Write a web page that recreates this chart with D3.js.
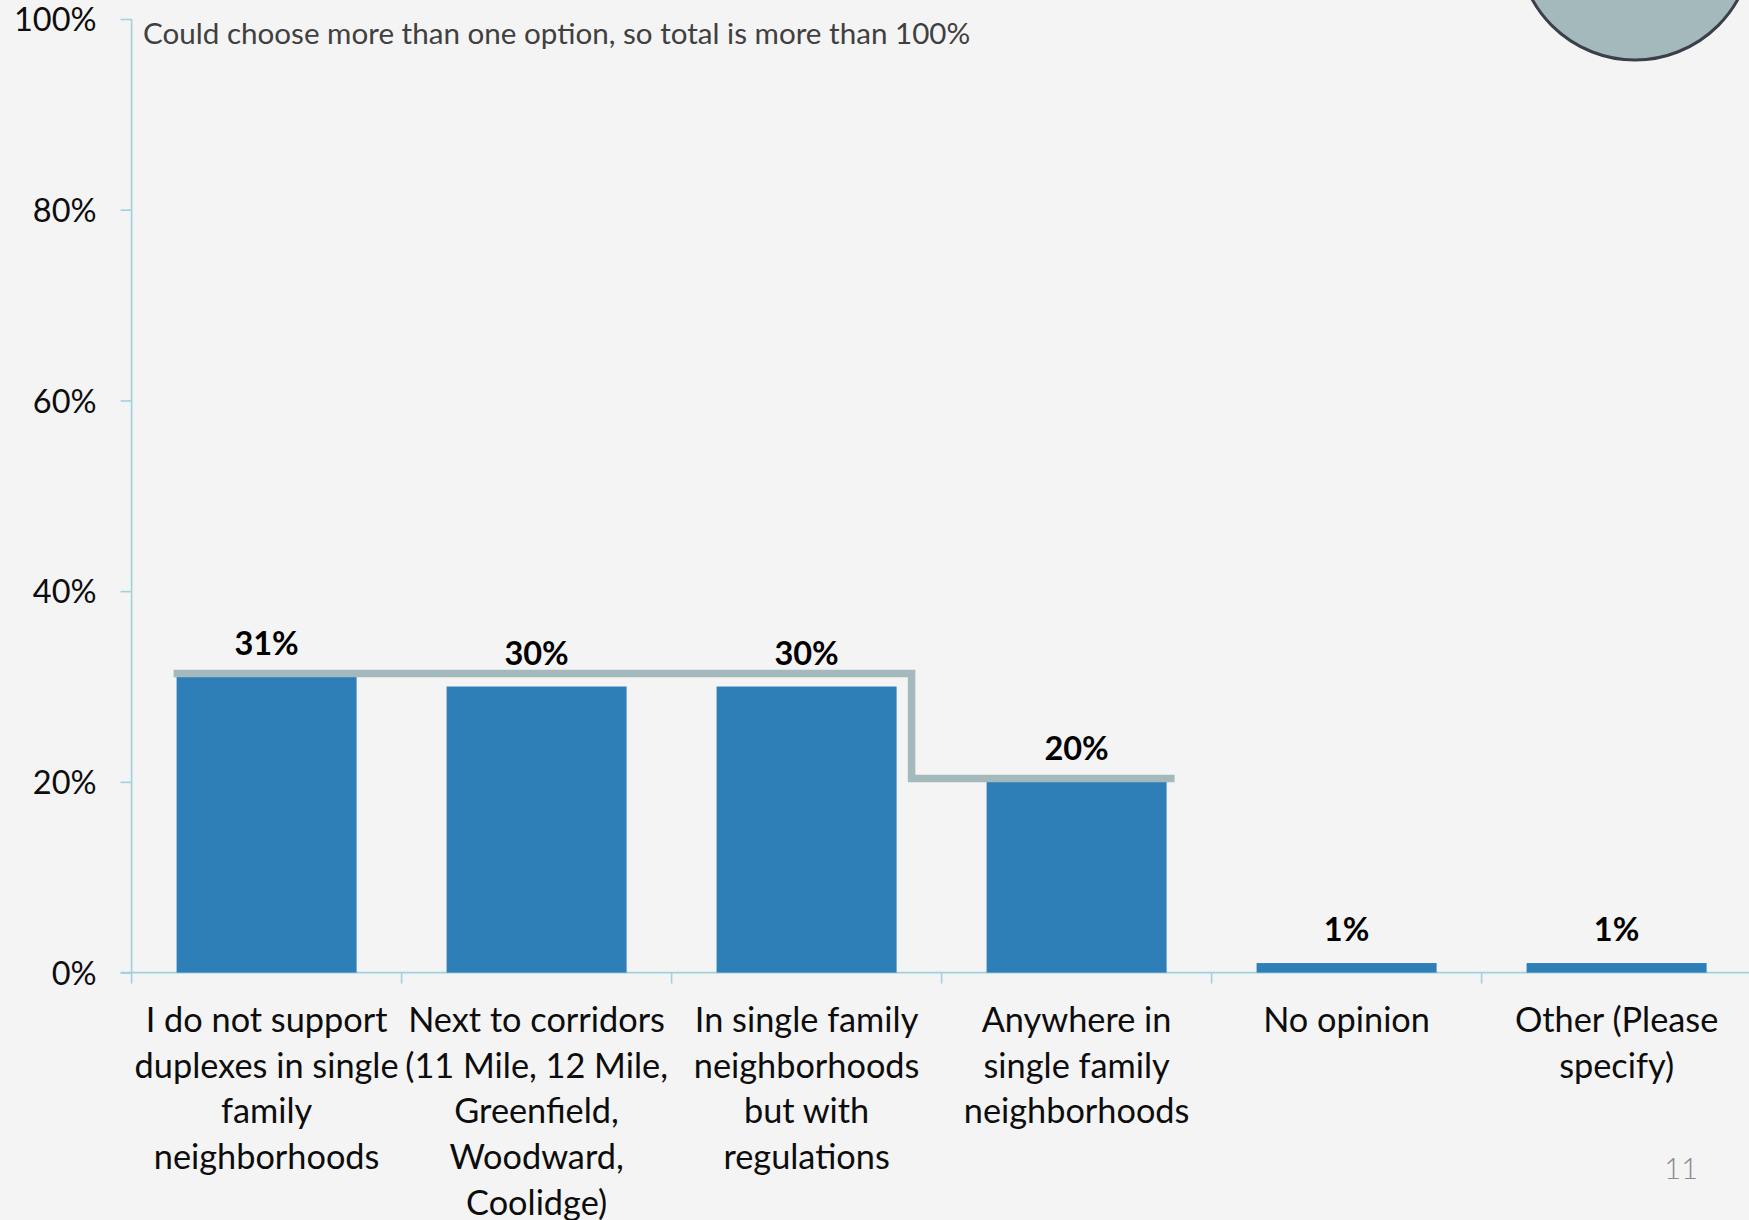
<!DOCTYPE html>
<html>
<head>
<meta charset="utf-8">
<script src="https://cdn.jsdelivr.net/npm/d3@7"></script>
<style>
  html, body { margin: 0; padding: 0; background: #f4f4f4; }
  svg { display: block; font-family: Lato, "Open Sans", sans-serif; }
</style>
</head>
<body>
<svg id="chart" width="1749" height="1220"></svg>
<script>
// Survey answers: where duplexes should be allowed
const categories = [
  "I do not support duplexes in single family neighborhoods",
  "Next to corridors (11 Mile, 12 Mile, Greenfield, Woodward, Coolidge)",
  "In single family neighborhoods but with regulations",
  "Anywhere in single family neighborhoods",
  "No opinion",
  "Other (Please specify)"
];
// Line breaks used for the axis labels
const categoryLines = [
  ["I do not support", "duplexes in single", "family", "neighborhoods"],
  ["Next to corridors", "(11 Mile, 12 Mile,", "Greenfield,", "Woodward,", "Coolidge)"],
  ["In single family", "neighborhoods", "but with", "regulations"],
  ["Anywhere in", "single family", "neighborhoods"],
  ["No opinion"],
  ["Other (Please", "specify)"]
];
const values = [31, 30, 30, 20, 1, 1];
const yTicks = [0, 20, 40, 60, 80, 100];
// Bracket over the leading answers: level held above bars 1-3, then bar 4
const bracketLevels = [31, 31, 31, 20];
const note = "Could choose more than one option, so total is more than 100%";
const pageNumber = "11";

const svg = d3.select("#chart");
const W = 1749, H = 1220;

const axisColor = "#9fd2dc";
const barColor = "#2e7eb8";
const bracketColor = "#a3b9bc";

const x = d3.scaleBand()
  .domain(categories)
  .range([131.6, 1751.6])
  .paddingInner(1 / 3)
  .paddingOuter(1 / 6);

const y = d3.scaleLinear().domain([0, 100]).range([972.6, 19]);

// decorative badge in the top right corner
svg.append("circle")
  .attr("cx", 1635).attr("cy", -57.5).attr("r", 117.5)
  .attr("fill", "#a3b9bc")
  .attr("stroke", "#3b3f49")
  .attr("stroke-width", 3);

// y axis
const yAxis = d3.axisLeft(y)
  .tickValues(yTicks)
  .tickFormat(d => d + "%")
  .tickSize(11)
  .tickPadding(24);
const gy = svg.append("g").attr("transform", `translate(${x.range()[0]},0)`).call(yAxis);
gy.select(".domain").attr("stroke", axisColor).attr("stroke-width", 1.6).attr("d", `M0,${y(100)}V${y(0)}`);
gy.selectAll(".tick line").attr("stroke", axisColor).attr("stroke-width", 1.6);
gy.selectAll(".tick text")
  .attr("font-family", "Lato, sans-serif")
  .attr("font-size", 32.5)
  .attr("fill", "#0d0d0d")
  .attr("dy", "0.36em");

// x axis: baseline plus boundary ticks between categories
const step = x.step();
const x0 = x.range()[0];
const gx = svg.append("g");
gx.append("line")
  .attr("x1", x0 - 11).attr("x2", W)
  .attr("y1", y(0)).attr("y2", y(0))
  .attr("stroke", axisColor).attr("stroke-width", 1.8);
gx.selectAll("line.bound")
  .data(d3.range(categories.length + 1))
  .join("line")
  .attr("class", "bound")
  .attr("x1", i => x0 + i * step).attr("x2", i => x0 + i * step)
  .attr("y1", y(0)).attr("y2", y(0) + 11)
  .attr("stroke", axisColor).attr("stroke-width", 1.6);

// bars
svg.append("g").selectAll("rect")
  .data(values)
  .join("rect")
  .attr("x", (d, i) => x(categories[i]))
  .attr("y", d => y(d))
  .attr("width", x.bandwidth())
  .attr("height", d => y(0) - y(d))
  .attr("fill", barColor);

// value labels
svg.append("g").selectAll("text")
  .data(values)
  .join("text")
  .attr("x", (d, i) => x(categories[i]) + x.bandwidth() / 2)
  .attr("y", d => y(d) - 22)
  .attr("text-anchor", "middle")
  .attr("font-family", "Lato, sans-serif")
  .attr("font-weight", 700)
  .attr("font-size", 32.5)
  .attr("fill", "#000")
  .text(d => d + "%");

// stepped bracket resting on the bar tops
const half = 3.5;
const b0 = x(categories[0]);
const b2 = x(categories[2]) + x.bandwidth();
const b3 = x(categories[3]) + x.bandwidth();
const bracket = d3.path();
bracket.moveTo(b0 - 3, y(bracketLevels[0]) - half);
bracket.lineTo(b2 + 15, y(bracketLevels[2]) - half);
bracket.lineTo(b2 + 15, y(bracketLevels[3]) - half);
bracket.lineTo(b3 + 8, y(bracketLevels[3]) - half);
svg.append("path")
  .attr("d", bracket.toString())
  .attr("fill", "none")
  .attr("stroke", bracketColor)
  .attr("stroke-width", 7.5)
  .attr("stroke-linejoin", "miter");

// category labels
const lab = svg.append("g");
categoryLines.forEach((lines, i) => {
  const t = lab.append("text")
    .attr("text-anchor", "middle")
    .attr("font-family", "Lato, sans-serif")
    .attr("font-size", 34.3)
    .attr("fill", "#0d0d0d");
  lines.forEach((ln, k) => {
    t.append("tspan")
      .attr("x", x(categories[i]) + x.bandwidth() / 2)
      .attr("y", y(0) + 59.5 + k * 45.6)
      .text(ln);
  });
});

// note
svg.append("text")
  .attr("x", 143).attr("y", 44)
  .attr("font-family", "Lato, sans-serif")
  .attr("font-size", 29.6)
  .attr("fill", "#404040")
  .text(note);

// page number
svg.append("text")
  .attr("x", 1698).attr("y", 1179)
  .attr("text-anchor", "end")
  .attr("font-family", "Lato, sans-serif")
  .attr("font-weight", 300)
  .attr("font-size", 29)
  .attr("fill", "#8a8a8a")
  .text(pageNumber);
</script>
</body>
</html>
